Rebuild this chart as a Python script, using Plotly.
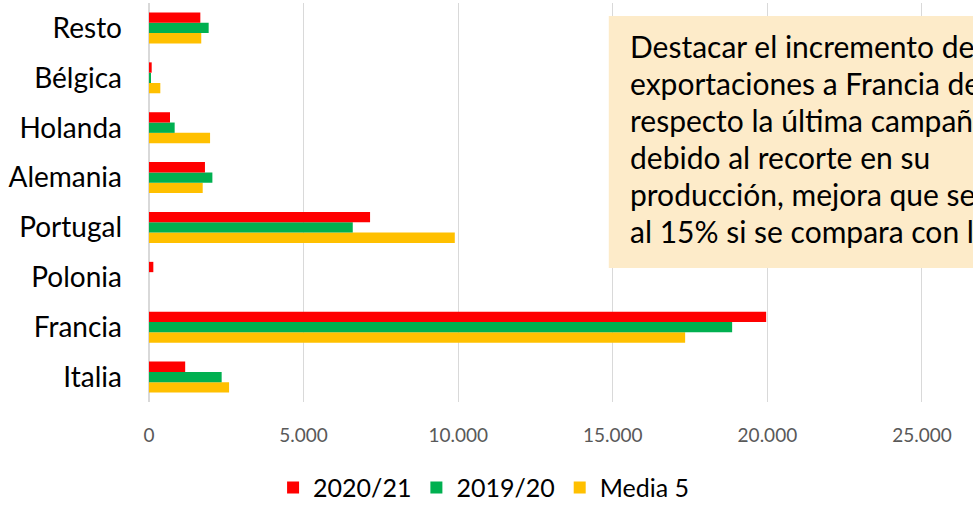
import plotly.graph_objects as go

categories = ["Italia", "Francia", "Polonia", "Portugal", "Alemania", "Holanda", "Bélgica", "Resto"]
s2020_21 = [1170, 19960, 140, 7150, 1810, 680, 87, 1660]
s2019_20 = [2350, 18860, 0, 6590, 2050, 830, 55, 1930]
media5 = [2590, 17340, 0, 9890, 1737, 1975, 366, 1690]
xticks = [0, 5000, 10000, 15000, 20000, 25000]
note_lines = [
    "Destacar el incremento de",
    "exportaciones a Francia de",
    "respecto la última campaña",
    "debido al recorte en su",
    "producción, mejora que se",
    "al 15% si se compara con la",
]

FONT = "Lato"
fig = go.Figure()
fig.add_trace(go.Bar(y=categories, x=media5, name="Media 5", orientation="h",
                     marker=dict(color="#FFC000", line=dict(width=0))))
fig.add_trace(go.Bar(y=categories, x=s2019_20, name="2019/20", orientation="h",
                     marker=dict(color="#00B050", line=dict(width=0))))
fig.add_trace(go.Bar(y=categories, x=s2020_21, name="2020/21", orientation="h",
                     marker=dict(color="#FF0000", line=dict(width=0))))

# note box (plot area spans 3..402 px vertically)
def py(pix):
    return (402 - pix) / 399

fig.add_shape(type="rect", xref="x", yref="paper", x0=14870, x1=40000, y0=py(268), y1=py(16),
              fillcolor="#FDEBC9", line=dict(width=0), layer="above")
for i, line in enumerate(note_lines):
    fig.add_annotation(xref="x", yref="paper", x=15500, y=py(46 + 37 * i),
                       xanchor="left", yanchor="middle", align="left", showarrow=False,
                       text=line, font=dict(family=FONT, size=30, color="#000000"))

fig.update_layout(
    width=973, height=505,
    margin=dict(l=149, r=0, t=3, b=103),
    paper_bgcolor="white", plot_bgcolor="white",
    barmode="group", bargap=0.38, bargroupgap=0,
    separators=",.",
    font=dict(family=FONT),
    showlegend=True,
    legend=dict(orientation="h", traceorder="reversed", xref="container", yref="container",
                x=0.497, xanchor="center", y=0.034, yanchor="middle",
                font=dict(size=25, color="#000000"), itemwidth=30),
    xaxis=dict(range=[0, 26650], tickvals=xticks, tickformat=",d", automargin=False,
               showgrid=True, gridcolor="#D9D9D9", gridwidth=1,
               zeroline=True, zerolinecolor="#D9D9D9", showline=False,
               tickfont=dict(size=19, color="#595959"), ticklabelstandoff=20),
    yaxis=dict(categoryorder="array", categoryarray=categories, automargin=False,
               showgrid=False, showline=False, zeroline=False,
               tickfont=dict(size=28, color="#000000"), ticklabelstandoff=26),
)

fig.write_html("out.html", config={"displayModeBar": False},
               post_script="document.body.style.margin='0';")
